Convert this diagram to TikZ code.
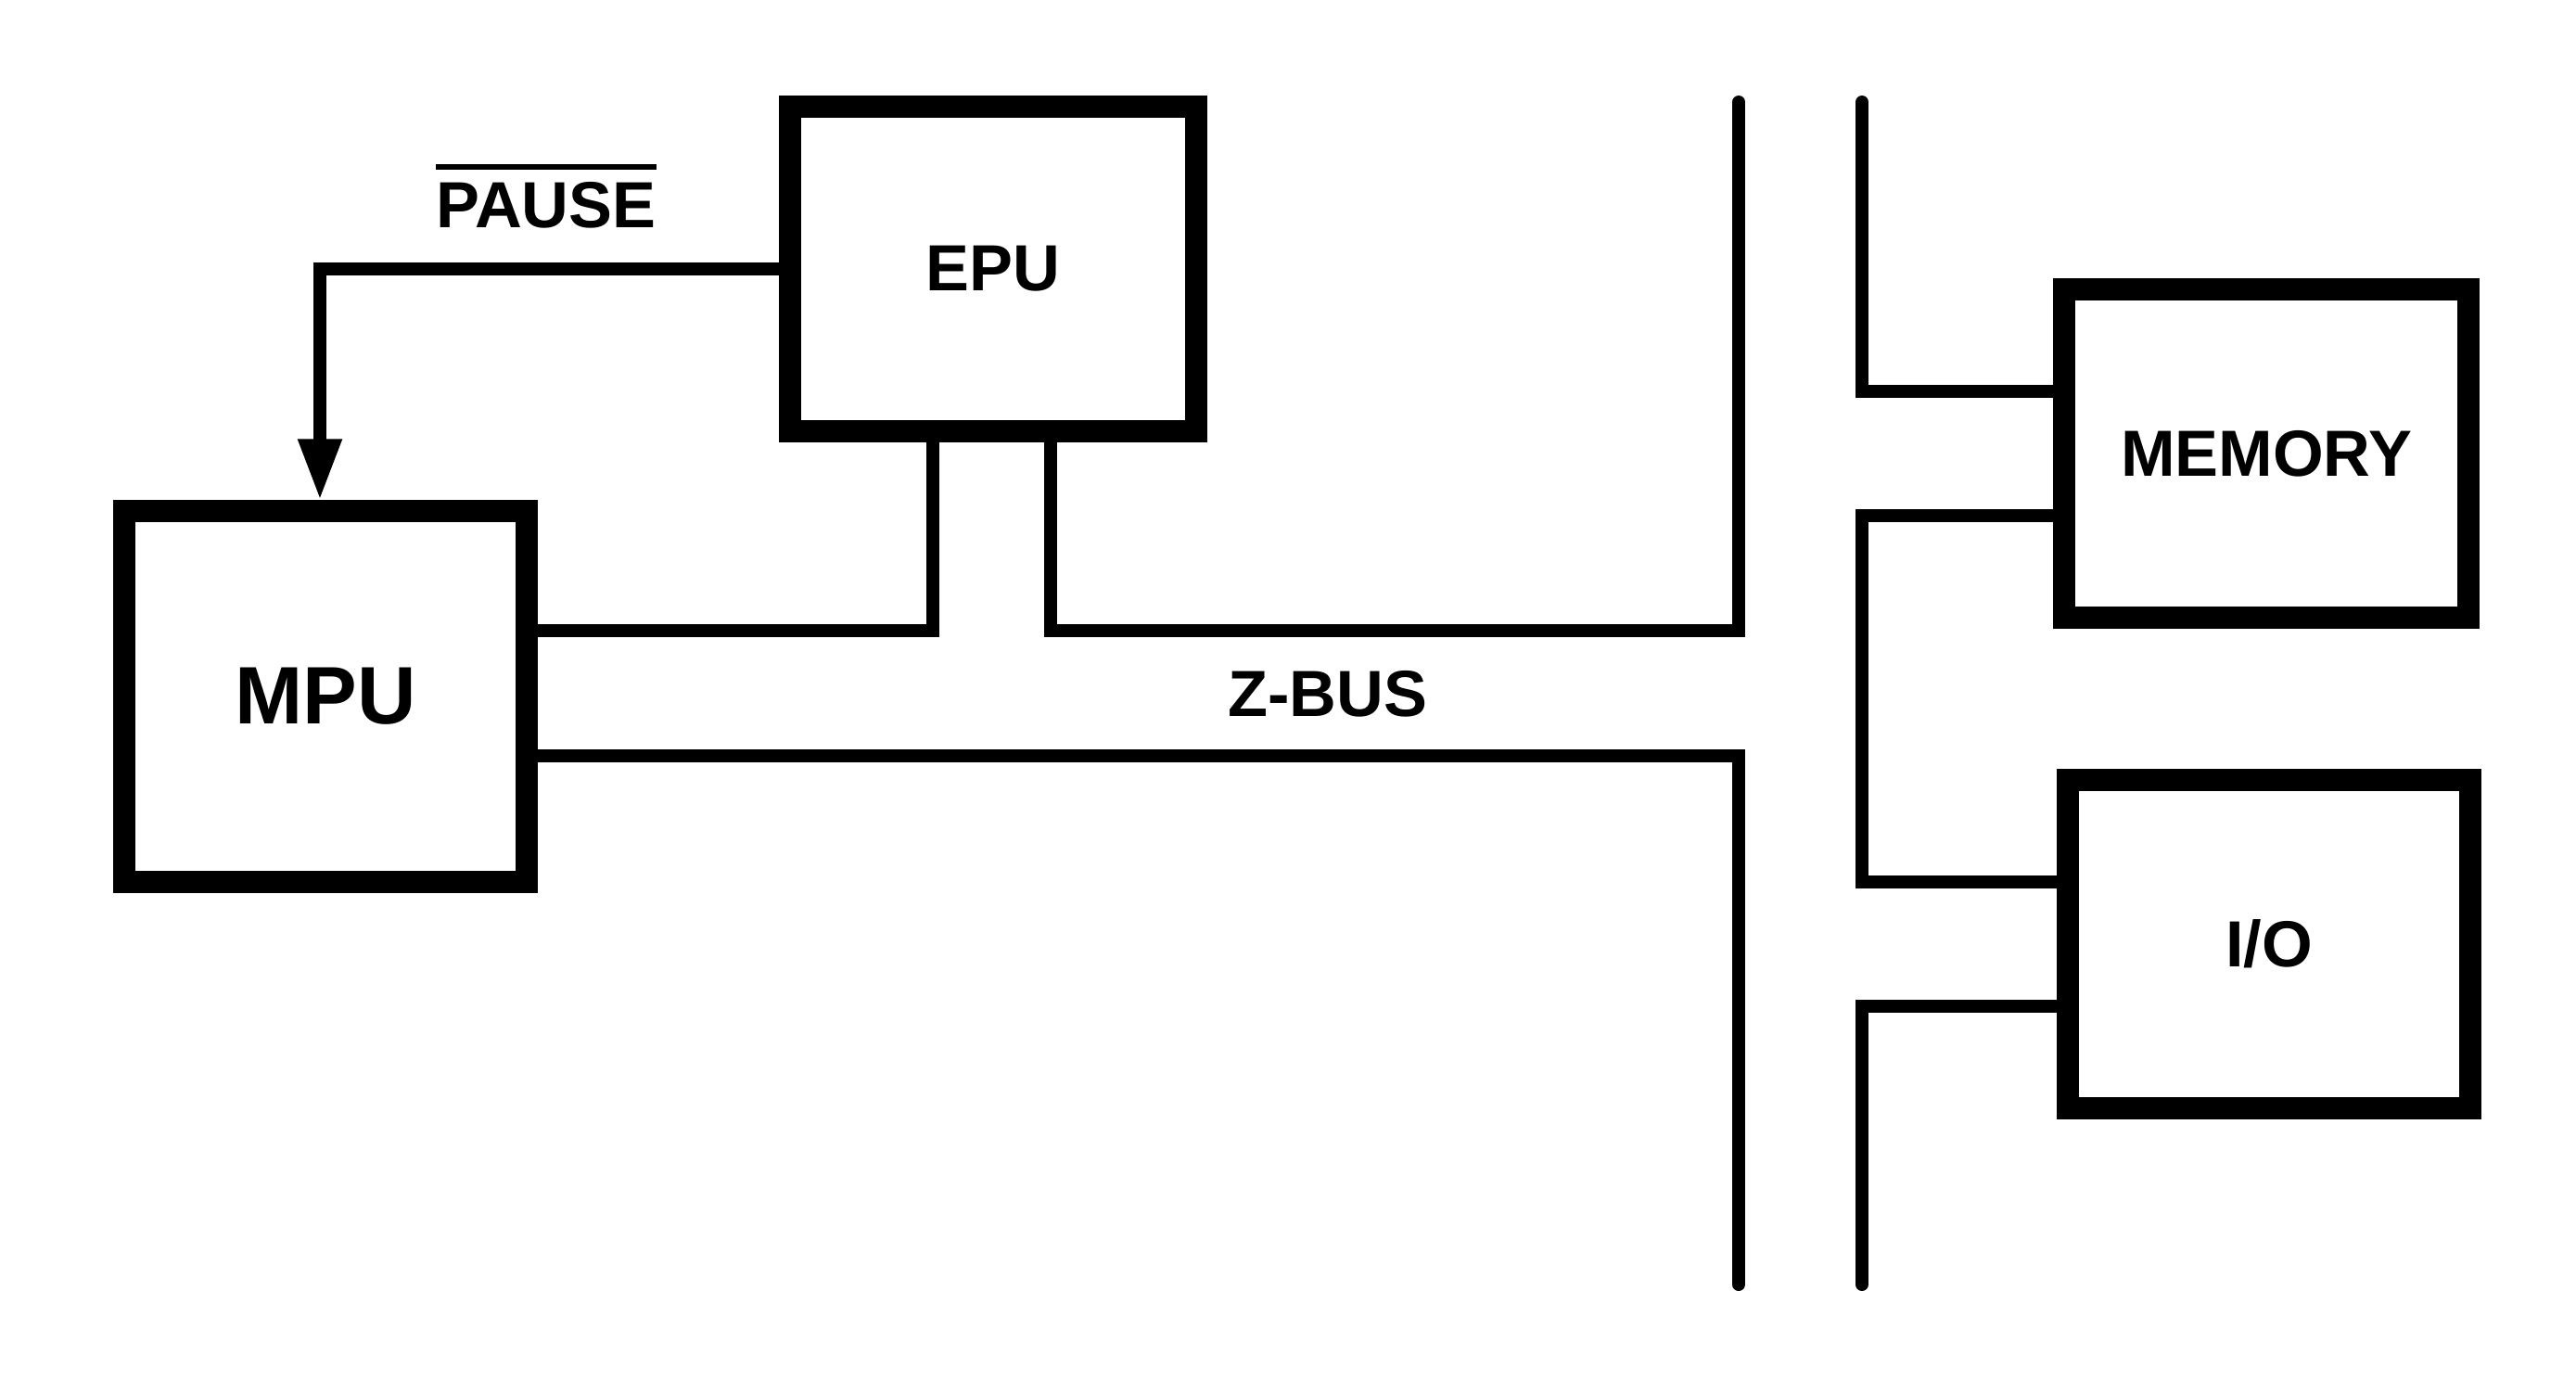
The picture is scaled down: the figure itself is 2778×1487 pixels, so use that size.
\documentclass[tikz,border=0pt]{standalone}
\usepackage{fontspec}
\setmainfont{Liberation Sans}
\usetikzlibrary{arrows.meta}

\begin{document}
\begin{tikzpicture}[x=0.01cm,y=-0.01cm,
    blockbox/.style={draw,line width=0.24cm,inner sep=0pt,font=\fontsize{20}{24}\selectfont\bfseries},
    busline/.style={line width=0.14cm,line cap=round},
    sigline/.style={line width=0.14cm,-{Triangle[width=0.44cm,length=0.66cm]}},
    lbl/.style={inner sep=0pt,font=\fontsize{20}{24}\selectfont\bfseries}]
    \useasboundingbox (0,0) rectangle (2778,1487);
    \node[blockbox,minimum width=4.37cm,minimum height=3.50cm] (epu) at (1071,290) {EPU};
    \node[blockbox,minimum width=4.33cm,minimum height=3.99cm,font=\fontsize{25}{30}\selectfont\bfseries] (mpu) at (351,751) {MPU};
    \node[blockbox,minimum width=4.36cm,minimum height=3.54cm] (mem) at (2444,489) {MEMORY};
    \node[blockbox,minimum width=4.33cm,minimum height=3.53cm] (io) at (2447,1018) {I/O};
    \node[lbl] (pause) at (589,221) {PAUSE};
    \node[lbl] (zbus) at (1432,748) {Z-BUS};
    \draw[line width=0.06cm] ([yshift=0.15cm]pause.north west) -- ([yshift=0.15cm]pause.north east);

    \coordinate (zup) at (0,680);
    \coordinate (zlo) at (0,815);
    \coordinate (busTL) at (1875,110);
    \coordinate (busBL) at (1875,1385);
    \coordinate (busTR) at (2008,110);
    \coordinate (busBR) at (2008,1385);
    \coordinate (epuA) at ([xshift=-0.65cm]epu.south);
    \coordinate (epuB) at ([xshift=0.62cm]epu.south);
    \coordinate (memA) at ([yshift=0.67cm]mem.west);
    \coordinate (memB) at ([yshift=-0.67cm]mem.west);
    \coordinate (ioA) at ([yshift=0.67cm]io.west);
    \coordinate (ioB) at ([yshift=-0.67cm]io.west);
    \coordinate (mpuIn) at ([xshift=-0.06cm]mpu.north);

    \draw[sigline] (epu.west) -| (mpuIn);
    \draw[busline] (mpu.east |- zup) -| (epuA);
    \draw[busline] (epuB) |- (busTL |- zup) -- (busTL);
    \draw[busline] (mpu.east |- zlo) -| (busBL);
    \draw[busline] (busTR) |- (memA);
    \draw[busline] (memB) -| (busTR |- ioA) -- (ioA);
    \draw[busline] (ioB) -| (busBR);
\end{tikzpicture}
\end{document}
